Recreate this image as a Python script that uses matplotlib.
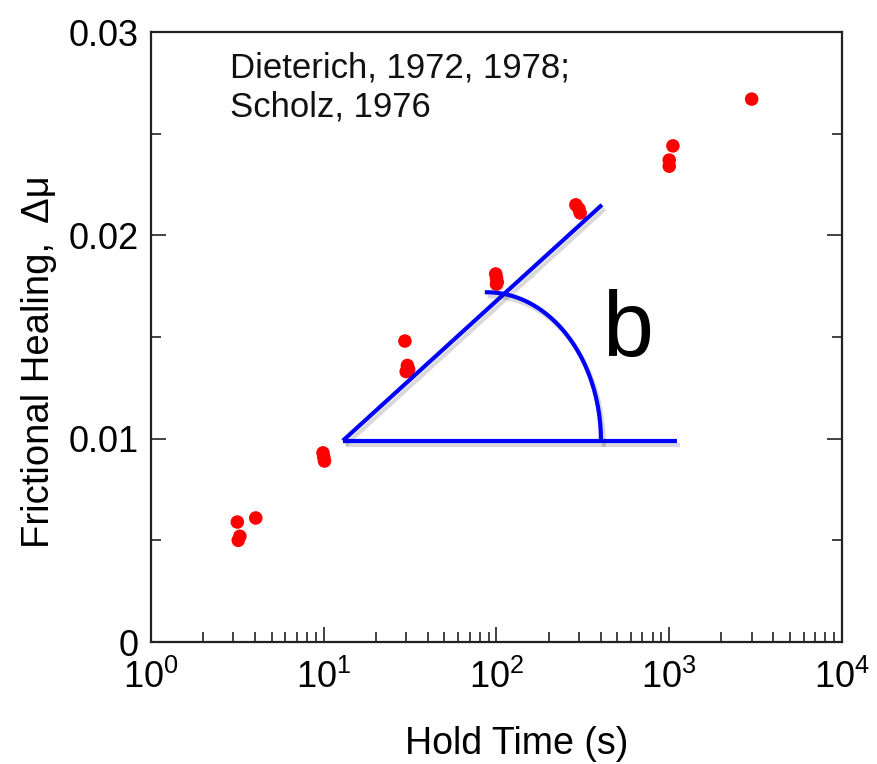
import numpy as np
import matplotlib
matplotlib.use("Agg")
import matplotlib.pyplot as plt
import matplotlib.patheffects as pe
from matplotlib.ticker import LogLocator, MultipleLocator, FixedFormatter, FixedLocator

plt.rcParams['font.family'] = ['Liberation Sans', 'DejaVu Sans']
plt.rcParams['mathtext.fontset'] = 'custom'
plt.rcParams['mathtext.rm'] = 'Liberation Sans'
plt.rcParams['mathtext.it'] = 'Liberation Sans'
plt.rcParams['mathtext.default'] = 'regular'

# Data (hold time in s, frictional healing Δμ)
hold_time = [3.16, 3.2, 3.27, 4.04, 9.9, 10.0, 10.1, 29.5, 30.5, 30.0, 31.0,
             99, 100, 101, 100, 288, 300, 305, 1000, 1000, 1050, 3000]
healing = [0.0059, 0.0050, 0.0052, 0.0061, 0.0093, 0.0091, 0.0089,
           0.0148, 0.0136, 0.0133, 0.0134, 0.0181, 0.0179, 0.0177, 0.0176,
           0.0215, 0.0213, 0.0211, 0.0237, 0.0234, 0.0244, 0.0267]

# Annotation geometry (slope construction)
slope_x = [12.9, 408]
slope_y = [0.0099, 0.0215]
base_x = [12.9, 1110]
base_y = [0.0099, 0.0099]
arc_center = (88.0, 0.0099)
arc_radii = (0.66, 0.0073)  # decades in x, Δμ in y

x_ticks = [1, 10, 100, 1000, 10000]
x_labels = [r'$10^{0}$', r'$10^{1}$', r'$10^{2}$', r'$10^{3}$', r'$10^{4}$']
y_ticks = [0, 0.01, 0.02, 0.03]
y_labels = ['0', '0.01', '0.02', '0.03']

fig = plt.figure(figsize=(8.77, 7.64), dpi=100)
ax = fig.add_axes([151/877, 1-642/764, 691/877, 610/764])

ax.set_xscale('log')
ax.set_xlim(1, 1e4)
ax.set_ylim(0, 0.03)

ax.scatter(hold_time, healing, s=95, color='#ff0000', edgecolors='none', zorder=3)

shadow = [pe.SimpleLineShadow(offset=(2, -3), alpha=0.15, shadow_color='k'), pe.Normal()]
ax.plot(slope_x, slope_y, color='#0000ff', lw=3, solid_capstyle='butt', path_effects=shadow, zorder=4)
ax.plot(base_x, base_y, color='#0000ff', lw=3, solid_capstyle='butt', path_effects=shadow, zorder=4)
t = np.linspace(0, np.pi/2, 100)
arc_lx = np.log10(arc_center[0]) + arc_radii[0]*np.cos(t)
arc_y = arc_center[1] + arc_radii[1]*np.sin(t)
ax.plot(10**arc_lx, arc_y, color='#0000ff', lw=3, path_effects=shadow, zorder=4)

ax.text((628-151)/691, (642-332)/610, 'b', transform=ax.transAxes, fontsize=66,
        ha='center', va='center', color='black')
ax.text((230-151)/691, (642-52)/610, 'Dieterich, 1972, 1978;\nScholz, 1976', transform=ax.transAxes,
        fontsize=25, ha='left', va='top', linespacing=1.22, color='#111111')

ax.xaxis.set_major_locator(FixedLocator(x_ticks))
ax.xaxis.set_major_formatter(FixedFormatter(x_labels))
ax.xaxis.set_minor_locator(LogLocator(base=10, subs=np.arange(2, 10), numticks=20))
ax.yaxis.set_major_locator(FixedLocator(y_ticks))
ax.yaxis.set_major_formatter(FixedFormatter(y_labels))
ax.yaxis.set_minor_locator(MultipleLocator(0.005))

ax.tick_params(axis='both', which='both', direction='in', colors='#222222', width=1.2)
ax.tick_params(axis='x', which='major', length=11, labelsize=26, pad=13, top=False)
ax.tick_params(axis='x', which='minor', length=7, top=False)
ax.tick_params(axis='y', which='major', length=11, labelsize=26, pad=9, right=True)
ax.tick_params(axis='y', which='minor', length=7, right=True)
for lab in ax.get_xticklabels() + ax.get_yticklabels():
    lab.set_color('black')

for s in ax.spines.values():
    s.set_linewidth(1.6)
    s.set_color('#222222')

ax.set_xlabel('Hold Time (s)', fontsize=27)
ax.xaxis.set_label_coords((517-151)/691, (642-726)/610)
ax.set_ylabel('Frictional Healing,  Δμ', fontsize=27.5)
ax.yaxis.set_label_coords((57-151)/691, (642-362)/610)

fig.savefig('out.png', dpi=100)
